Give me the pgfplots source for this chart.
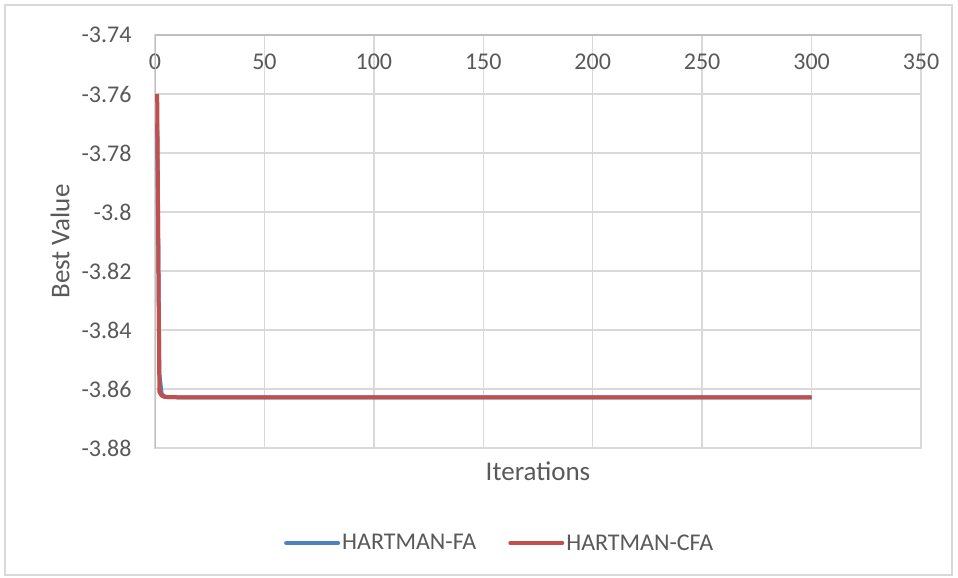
\documentclass[border=0pt]{standalone}
\usepackage{pgfplots}
\pgfplotsset{compat=1.18}
\usepackage{fontspec}
\setmainfont{Carlito}
\definecolor{gridgray}{HTML}{D9D9D9}
\definecolor{axisgray}{HTML}{BFBFBF}
\definecolor{textgray}{HTML}{595959}
\definecolor{fablue}{HTML}{4F81BD}
\definecolor{cfared}{HTML}{C0504D}
\begin{document}
\begin{tikzpicture}[x=1pt,y=1pt]
  \useasboundingbox (0,0) rectangle (958,578);
  \draw[gridgray, line width=1.5pt] (5,3) rectangle (952,573);
  \begin{axis}[
    at={(155pt,130pt)}, anchor=south west,
    scale only axis,
    width=766pt, height=413pt,
    xmin=0, xmax=350, ymin=-3.88, ymax=-3.74,
    xtick={0,50,...,350},
    ytick={-3.88,-3.86,...,-3.74},
    yticklabels={-3.88,-3.86,-3.84,-3.82,-3.8,-3.78,-3.76,-3.74},
    xticklabel pos=upper,
    major tick length=0pt,
    grid=major,
    major grid style={gridgray, line width=1.5pt},
    axis line style={gridgray, line width=1.5pt},
    /pgf/number format/assume math mode=true,
    tick label style={font=\fontsize{24}{28}\selectfont, text=textgray},
    x tick label style={anchor=north, yshift=-15pt},
    y tick label style={anchor=east, xshift=-20pt},
    xlabel={Iterations},
    ylabel={Best Value},
    every axis x label/.style={at={(0.5,-0.056)}, anchor=center,
      font=\fontsize{27}{32}\selectfont, text=textgray},
    every axis y label/.style={at={(-0.124,0.5)}, anchor=center, rotate=90,
      font=\fontsize{27}{32}\selectfont, text=textgray},
    legend columns=2,
    legend style={at={(0.45,-0.23)}, anchor=center, draw=none,
      font=\fontsize{24}{28}\selectfont, text=textgray,
      /tikz/every even column/.append style={column sep=30pt}},
    legend image code/.code={\draw[#1, line width=4pt, line cap=round] (0pt,0pt) -- (52pt,0pt);},
  ]
  \draw[axisgray, line width=1.5pt] (axis cs:0,-3.88) -- (axis cs:0,-3.74);
  \draw[axisgray, line width=1.5pt] (axis cs:0,-3.74) -- (axis cs:350,-3.74);
  \addplot[fablue, line width=4pt, line join=round] coordinates {
    (1,-3.7700) (2,-3.8550) (3,-3.8615) (4,-3.8624) (5,-3.8627)
    (10,-3.8628) (20,-3.8628) (50,-3.8628) (100,-3.8628)
    (150,-3.8628) (200,-3.8628) (250,-3.8628) (300,-3.8628)
  };
  \addlegendentry{HARTMAN-FA}
  \addplot[cfared, line width=4pt, line join=round] coordinates {
    (1,-3.7600) (2,-3.8610) (3,-3.8622) (4,-3.8626) (5,-3.8627)
    (10,-3.8628) (20,-3.8628) (50,-3.8628) (100,-3.8628)
    (150,-3.8628) (200,-3.8628) (250,-3.8628) (300,-3.8628)
  };
  \addlegendentry{HARTMAN-CFA}
  \end{axis}
\end{tikzpicture}
\end{document}
